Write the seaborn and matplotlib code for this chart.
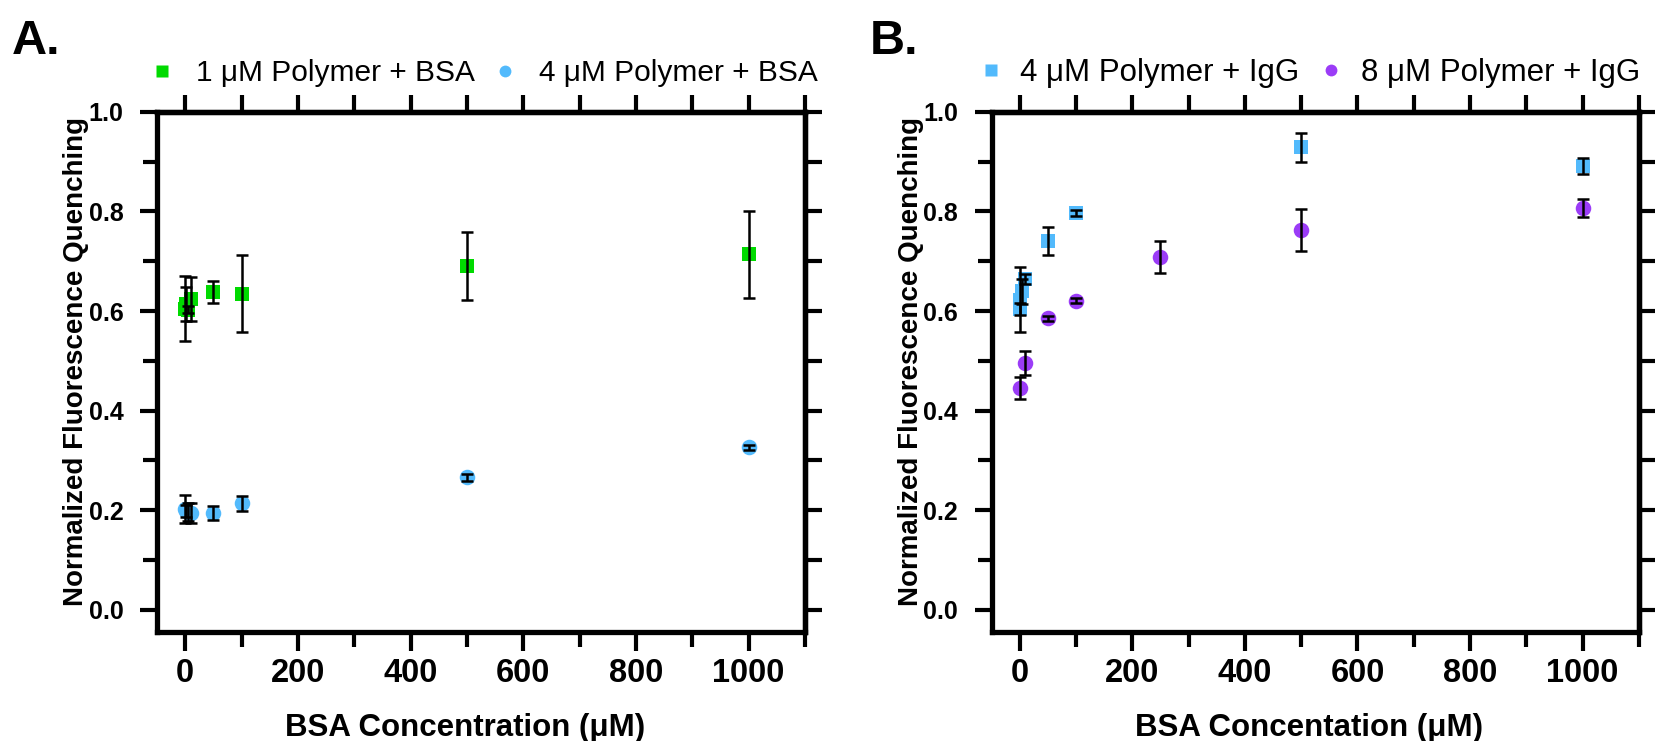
import numpy as np
import pandas as pd
import matplotlib
matplotlib.use("Agg")
import matplotlib.pyplot as plt
import seaborn as sns
from matplotlib.lines import Line2D
from matplotlib.ticker import FixedLocator, FormatStrFormatter

# ---------------- data ----------------
conc_a = [0, 1, 5, 10, 50, 100, 500, 1000]
bsa_1uM = [0.605, 0.614, 0.603, 0.624, 0.639, 0.635, 0.690, 0.714]
bsa_1uM_err = [0.066, 0.034, 0.007, 0.045, 0.022, 0.077, 0.068, 0.087]
bsa_4uM = [0.202, 0.198, 0.196, 0.194, 0.194, 0.214, 0.266, 0.326]
bsa_4uM_err = [0.028, 0.012, 0.018, 0.020, 0.014, 0.015, 0.007, 0.005]

conc_b_4 = [0, 1, 5, 10, 50, 100, 500, 1000]
igg_4uM = [0.605, 0.623, 0.640, 0.665, 0.741, 0.796, 0.929, 0.891]
igg_4uM_err = [0.012, 0.065, 0.025, 0.010, 0.028, 0.006, 0.029, 0.016]
conc_b_8 = [0, 10, 50, 100, 250, 500, 1000]
igg_8uM = [0.445, 0.496, 0.585, 0.621, 0.708, 0.763, 0.807]
igg_8uM_err = [0.022, 0.024, 0.005, 0.005, 0.032, 0.043, 0.019]

labels_a = ["1 \u03bcM Polymer + BSA", "4 \u03bcM Polymer + BSA"]
labels_b = ["4 \u03bcM Polymer + IgG", "8 \u03bcM Polymer + IgG"]
xlabel_a = "BSA Concentration (\u03bcM)"
xlabel_b = "BSA Concentation (\u03bcM)"
ylabel = "Normalized Fluorescence Quenching"
x_major = [0, 200, 400, 600, 800, 1000]
x_minor = [100, 300, 500, 700, 900, 1100]
y_major = [0.0, 0.2, 0.4, 0.6, 0.8, 1.0]
y_minor = [0.1, 0.3, 0.5, 0.7, 0.9]

GREEN = "#00DA00"
BLUE = "#52BAFC"
PURPLE = "#9B3CF7"

sns.set_theme(style="white")
plt.rcParams["font.family"] = ["Liberation Sans", "DejaVu Sans"]
plt.rcParams["font.weight"] = "bold"
plt.rcParams["axes.edgecolor"] = "black"
plt.rcParams["xtick.color"] = "black"
plt.rcParams["ytick.color"] = "black"
plt.rcParams["axes.labelcolor"] = "black"
plt.rcParams["text.color"] = "black"

fig = plt.figure(figsize=(16.55, 7.41), dpi=100)

SPW = 3.8
TW = 3.0


def style_axes(ax, xlabel, xlab_x):
    ax.set_xlim(-50, 1100)
    ax.set_ylim(-0.045, 1.0)
    for s in ax.spines.values():
        s.set_linewidth(SPW)
        s.set_color("black")
    ax.xaxis.set_major_locator(FixedLocator(x_major))
    ax.xaxis.set_minor_locator(FixedLocator(x_minor))
    ax.yaxis.set_major_locator(FixedLocator(y_major))
    ax.yaxis.set_minor_locator(FixedLocator(y_minor))
    ax.yaxis.set_major_formatter(FormatStrFormatter("%.1f"))
    ax.tick_params(axis="x", which="major", direction="out", length=14, width=TW,
                   labelsize=23.5, pad=5, bottom=True, top=False)
    ax.tick_params(axis="x", which="minor", direction="out", length=11, width=TW,
                   bottom=True, top=False)
    ax.tick_params(axis="y", which="major", direction="out", length=12, width=TW,
                   labelsize=18, pad=12, left=True, right=False)
    ax.tick_params(axis="y", which="minor", direction="out", length=10, width=TW,
                   left=True, right=False)
    for lbl in ax.get_xticklabels() + ax.get_yticklabels():
        lbl.set_fontweight("bold")
    ax.set_xlabel(xlabel, fontsize=22.5, fontweight="bold")
    ax.xaxis.set_label_coords(xlab_x, -0.155)
    ax.set_ylabel(ylabel, fontsize=20, fontweight="bold")
    ax.yaxis.set_label_coords(-0.105, 0.52)
    # mirrored ticks on top and right
    top = ax.secondary_xaxis("top")
    top.set_xticks(np.arange(0, 1101, 100))
    top.tick_params(direction="out", length=12, width=TW, labeltop=False)
    top.spines["top"].set_linewidth(SPW)
    right = ax.secondary_yaxis("right")
    right.set_yticks(np.round(np.arange(0, 1.01, 0.1), 1))
    right.tick_params(direction="out", length=12, width=TW, labelright=False)
    right.spines["right"].set_linewidth(SPW)


def draw_series(ax, x, y, err, color, marker, size):
    df = pd.DataFrame({"conc": x, "q": y})
    sns.scatterplot(data=df, x="conc", y="q", color=color, marker=marker, s=size,
                    linewidth=0, ax=ax, legend=False, zorder=3)
    ax.errorbar(x, y, yerr=err, fmt="none", ecolor="black", elinewidth=1.8,
                capsize=4.0, capthick=1.8, zorder=4)


LEG_A = dict(ncol=2, loc="center", frameon=False, borderpad=0, borderaxespad=0,
             handlelength=0.8, handletextpad=0.74, columnspacing=0.6,
             prop={"size": 21.5, "weight": "normal"})
LEG_B = dict(ncol=2, loc="center", frameon=False, borderpad=0, borderaxespad=0,
             handlelength=0.8, handletextpad=0.55, columnspacing=0.6,
             prop={"size": 22.5, "weight": "normal"})

# ---------------- panel A ----------------
axA = fig.add_axes([0.0949, 0.1471, 0.3915, 0.7018])
draw_series(axA, conc_a, bsa_1uM, bsa_1uM_err, GREEN, "s", 105)
draw_series(axA, conc_a, bsa_4uM, bsa_4uM_err, BLUE, "o", 125)
style_axes(axA, xlabel_a, 0.475)
hA = [Line2D([], [], ls="none", marker="s", ms=8, mfc=GREEN, mec="none"),
      Line2D([], [], ls="none", marker="o", ms=8.5, mfc=BLUE, mec="none")]
axA.legend(hA, labels_a, bbox_to_anchor=(0.5046, 1.075), **LEG_A)

# ---------------- panel B ----------------
axB = fig.add_axes([0.5991, 0.1471, 0.3912, 0.7018])
draw_series(axB, conc_b_4, igg_4uM, igg_4uM_err, BLUE, "s", 105)
draw_series(axB, conc_b_8, igg_8uM, igg_8uM_err, PURPLE, "o", 125)
style_axes(axB, xlabel_b, 0.49)
hB = [Line2D([], [], ls="none", marker="s", ms=8, mfc=BLUE, mec="none"),
      Line2D([], [], ls="none", marker="o", ms=8.5, mfc=PURPLE, mec="none")]
axB.legend(hB, labels_b, bbox_to_anchor=(0.4903, 1.075), **LEG_B)

fig.text(12 / 1655, 1 - 54 / 741, "A.", fontsize=35, fontweight="bold", va="baseline")
fig.text(870 / 1655, 1 - 54 / 741, "B.", fontsize=35, fontweight="bold", va="baseline")

fig.savefig("out.png", dpi=100, facecolor="white")
